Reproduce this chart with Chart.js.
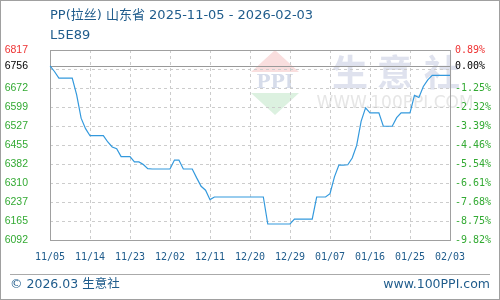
<!DOCTYPE html>
<html>
<head>
<meta charset="utf-8">
<script src="https://cdn.jsdelivr.net/npm/chart.js@4/dist/chart.umd.min.js"></script>
<style>
  body { margin: 0; background: #fff; }
  #wrap { position: relative; width: 500px; height: 300px; overflow: hidden; }
  #frame { position: absolute; left: 0; top: 0; width: 498px; height: 298px; border: 1px solid #a0a0a0; pointer-events: none; }
  .txt { position: absolute; color: #1f5c8c; font-family: "DejaVu Sans", "Noto Sans CJK SC", sans-serif; white-space: nowrap; }
  #title { left: 50px; top: 6px; font-size: 13px; line-height: 18px; }
  #code { left: 50px; top: 26px; font-size: 13px; line-height: 18px; }
  #foot { position: absolute; left: 10px; top: 274px; width: 480px; border-top: 1px solid #aaa; }
  #copy { left: 10px; top: 276px; font-size: 12.5px; line-height: 16px; }
  #site { right: 10px; top: 276px; font-size: 12.5px; line-height: 16px; }
</style>
</head>
<body>
<div id="wrap">
  <canvas id="myChart" width="500" height="300"></canvas>
  <div class="txt" id="title">PP(拉丝) 山东省 2025-11-05 - 2026-02-03</div>
  <div class="txt" id="code">L5E89</div>
  <div id="foot"></div>
  <div class="txt" id="copy">© 2026.03 生意社</div>
  <div class="txt" id="site">www.100PPI.com</div>
  <div id="frame"></div>
</div>
<script>
// daily dates, 2025-11-05 .. 2026-02-03
const dates = [
  '11/05','11/06','11/07','11/08','11/09','11/10','11/11','11/12','11/13','11/14',
  '11/15','11/16','11/17','11/18','11/19','11/20','11/21','11/22','11/23','11/24',
  '11/25','11/26','11/27','11/28','11/29','11/30',
  '12/01','12/02','12/03','12/04','12/05','12/06','12/07','12/08','12/09','12/10',
  '12/11','12/12','12/13','12/14','12/15','12/16','12/17','12/18','12/19','12/20',
  '12/21','12/22','12/23','12/24','12/25','12/26','12/27','12/28','12/29','12/30','12/31',
  '01/01','01/02','01/03','01/04','01/05','01/06','01/07','01/08','01/09','01/10',
  '01/11','01/12','01/13','01/14','01/15','01/16','01/17','01/18','01/19','01/20',
  '01/21','01/22','01/23','01/24','01/25','01/26','01/27','01/28','01/29','01/30','01/31',
  '02/01','02/02','02/03'
];

// price, yuan/ton
const prices = [
  6756, 6735, 6710, 6710, 6710, 6710, 6646, 6557, 6517, 6490,
  6490, 6490, 6490, 6466, 6447, 6440, 6410, 6410, 6410, 6390,
  6390, 6380, 6364, 6363, 6363, 6363, 6363, 6363, 6397, 6397,
  6363, 6363, 6363, 6329, 6297, 6282, 6246, 6256, 6256, 6256,
  6256, 6256, 6256, 6256, 6256, 6256, 6256, 6256, 6256, 6153,
  6153, 6153, 6153, 6153, 6153, 6172, 6172, 6172, 6172, 6172,
  6256, 6256, 6256, 6269, 6333, 6378, 6378, 6379, 6405, 6453,
  6545, 6596, 6577, 6577, 6577, 6526, 6526, 6526, 6559, 6577,
  6577, 6577, 6644, 6636, 6678, 6703, 6720, 6720, 6720, 6720,
  6720
];

const basePrice = 6756;
const yMin = 6092;
const yMax = 6817;
const yTicks = [6092, 6164.5, 6237, 6309.5, 6382, 6454.5, 6527, 6599.5, 6672, 6744.5, 6756, 6817];
const leftLabels = ['6092', '6165', '6237', '6310', '6382', '6455', '6527', '6599', '6672', '', '6756', '6817'];
const rightLabels = ['-9.82%', '-8.75%', '-7.68%', '-6.61%', '-5.54%', '-4.46%', '-3.39%', '-2.32%', '-1.25%', '', '0.00%', '0.89%'];
const xStep = 9;

function labelColor(ctx) {
  const v = ctx.tick.value;
  if (v === yMax) return '#ee3333';
  if (v === basePrice) return '#000000';
  return '#33aa33';
}

const framePlugin = {
  id: 'frame',
  beforeDraw(chart) {
    // faint watermark
    const c = chart.ctx, a = chart.chartArea;
    c.save();
    const lx = a.left + 225, ty = a.top;
    c.fillStyle = '#f9dede';
    c.beginPath(); c.moveTo(lx, ty); c.lineTo(lx + 24, ty + 22); c.lineTo(lx - 24, ty + 22); c.closePath(); c.fill();
    c.fillStyle = '#dcf1e0';
    c.beginPath(); c.moveTo(lx - 24, ty + 43); c.lineTo(lx + 24, ty + 43); c.lineTo(lx, ty + 65); c.closePath(); c.fill();
    c.fillStyle = '#d6dcea';
    c.font = 'bold 19px "DejaVu Serif", serif';
    c.textAlign = 'center'; c.textBaseline = 'middle';
    c.fillText('PPI', lx, ty + 33);
    c.fillStyle = '#dfe2ee';
    c.font = 'bold 36px "Noto Sans CJK SC", sans-serif';
    c.fillText('生', a.left + 300, ty + 22);
    c.fillText('意', a.left + 345, ty + 22);
    c.fillText('社', a.left + 392, ty + 22);
    c.fillStyle = '#e6e6e6';
    c.font = '17px "DejaVu Sans", sans-serif';
    c.fillText('WWW.100PPI.COM', a.left + 345, ty + 54);
    c.restore();
  },
  beforeDatasetsDraw(chart) {
    const c = chart.ctx, a = chart.chartArea;
    const y = Math.round(chart.scales.y.getPixelForValue(basePrice)) + 0.5;
    c.save();
    c.strokeStyle = '#999999';
    c.lineWidth = 1;
    c.beginPath(); c.moveTo(a.left, y); c.lineTo(a.right, y); c.stroke();
    c.strokeStyle = '#a0a0a0';
    c.strokeRect(Math.round(a.left) + 0.5, Math.round(a.top) + 0.5,
      Math.round(a.right - a.left), Math.round(a.bottom - a.top));
    c.restore();
  }
};

const config = {
  type: 'line',
  data: {
    labels: dates,
    datasets: [{
      data: prices,
      borderColor: '#3399dd',
      borderWidth: 1.2,
      tension: 0,
      pointRadius: 0,
      fill: false
    }]
  },
  options: {
    responsive: false,
    animation: false,
    devicePixelRatio: 1,
    layout: { padding: { top: 50, left: 0, right: 0, bottom: 0 } },
    plugins: {
      legend: { display: false },
      tooltip: { enabled: false }
    },
    scales: {
      x: {
        type: 'category',
        offset: false,
        afterBuildTicks(scale) {
          scale.ticks = scale.ticks.filter(t => t.value % xStep === 0);
        },
        afterFit(scale) { scale.height = 60; },
        grid: {
          drawTicks: false,
          color: (ctx) => (ctx.index === 0 || ctx.index === 10) ? 'rgba(0,0,0,0)' : '#cccccc'
        },
        border: { display: false, dash: [3, 3] },
        ticks: {
          autoSkip: false,
          maxRotation: 0,
          padding: 11,
          color: '#1f5c8c',
          font: { family: '"DejaVu Sans Mono", monospace', size: 10 }
        }
      },
      y: {
        position: 'left',
        min: yMin,
        max: yMax,
        afterBuildTicks(scale) {
          scale.ticks = yTicks.map(v => ({ value: v }));
        },
        afterFit(scale) { scale.width = 50; },
        grid: {
          drawTicks: false,
          color: (ctx) => {
            const v = ctx.tick ? ctx.tick.value : null;
            return (v === basePrice || v === yMin || v === yMax) ? 'rgba(0,0,0,0)' : '#cccccc';
          }
        },
        border: { display: false, dash: [3, 3] },
        ticks: {
          autoSkip: false,
          padding: 22,
          color: labelColor,
          font: { family: '"Liberation Sans", sans-serif', size: 10.5 },
          callback: (value, index) => leftLabels[index]
        }
      },
      y1: {
        position: 'right',
        min: yMin,
        max: yMax,
        afterBuildTicks(scale) {
          scale.ticks = yTicks.map(v => ({ value: v }));
        },
        afterFit(scale) { scale.width = 50; },
        grid: { drawOnChartArea: false, drawTicks: false },
        border: { display: false },
        ticks: {
          autoSkip: false,
          padding: 5,
          color: labelColor,
          font: { family: '"DejaVu Sans Mono", monospace', size: 10 },
          callback: (value, index) => rightLabels[index]
        }
      }
    }
  },
  plugins: [framePlugin]
};

var ctx = document.getElementById('myChart').getContext('2d');
var grafica = new Chart(ctx, config);
</script>
</body>
</html>
